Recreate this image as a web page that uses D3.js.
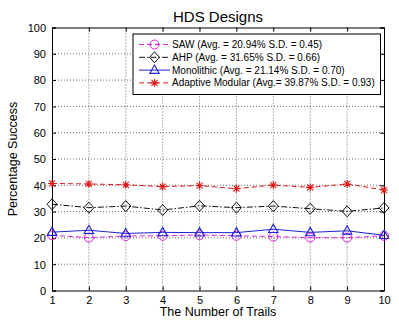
<!DOCTYPE html>
<html><head><meta charset="utf-8">
<script src="https://cdn.jsdelivr.net/npm/d3@7"></script>
<style>body{margin:0;background:#fff}svg{display:block}text{font-family:Arial,"Liberation Sans",sans-serif}</style>
</head><body><svg id="c" width="399" height="323"></svg>
<script>
const trials = [1,2,3,4,5,6,7,8,9,10];
const sawValues = [21.0,20.1,20.7,20.8,21.1,20.8,20.5,20.1,20.1,20.8];
const ahpValues = [32.8,31.5,32.1,30.6,32.2,31.5,32.1,31.1,30.1,31.4];
const monolithicValues = [22.2,22.9,21.7,22.1,22.0,22.0,23.3,22.1,22.7,21.0];
const adaptiveValues = [40.7,40.5,40.2,39.5,39.9,38.7,40.1,39.2,40.5,38.2];
const seriesNames = ["SAW (Avg. = 20.94% S.D. = 0.45)","AHP (Avg. = 31.65% S.D. = 0.66)","Monolithic (Avg. = 21.14% S.D. = 0.70)","Adaptive Modular (Avg.= 39.87% S.D. = 0.93)"];
const yTicks = [0,10,20,30,40,50,60,70,80,90,100];
const xTicks = [1,2,3,4,5,6,7,8,9,10];

const series = [
  {name:seriesNames[0], values:sawValues, color:"#e020e0", dash:"5,3", marker:"circle"},
  {name:seriesNames[1], values:ahpValues, color:"#111", dash:"6,2,1.5,2", marker:"diamond"},
  {name:seriesNames[2], values:monolithicValues, color:"#2020d0", dash:null, marker:"triangle"},
  {name:seriesNames[3], values:adaptiveValues, color:"#e01818", dash:"5,3", marker:"star"}
];

const svg = d3.select("#c");
const L=52, R=384, T=27.5, B=290.5;
const x = d3.scaleLinear().domain([1,10]).range([L,R]);
const y = d3.scaleLinear().domain([0,100]).range([B,T]);

// grid
const g = svg.append("g");
g.selectAll(".gx").data(xTicks.slice(1,-1)).enter().append("line")
 .attr("x1",d=>x(d)).attr("x2",d=>x(d)).attr("y1",T).attr("y2",B)
 .attr("stroke","#444").attr("stroke-width",0.8).attr("stroke-dasharray","1,2");
g.selectAll(".gy").data(yTicks.slice(1,-1)).enter().append("line")
 .attr("x1",L).attr("x2",R).attr("y1",d=>y(d)).attr("y2",d=>y(d))
 .attr("stroke","#444").attr("stroke-width",0.8).attr("stroke-dasharray","1,2");

// axes
const xAx = svg.append("g").attr("transform",`translate(0,${B})`)
 .call(d3.axisBottom(x).tickValues(xTicks).tickSize(-4).tickPadding(6).tickFormat(d3.format("d")));
const xAxTop = svg.append("g").attr("transform",`translate(0,${T})`)
 .call(d3.axisTop(x).tickValues(xTicks).tickSize(-4).tickFormat(""));
const yAx = svg.append("g").attr("transform",`translate(${L},0)`)
 .call(d3.axisLeft(y).tickValues(yTicks).tickSize(-4).tickPadding(6).tickFormat(d3.format("d")));
const yAxR = svg.append("g").attr("transform",`translate(${R},0)`)
 .call(d3.axisRight(y).tickValues(yTicks).tickSize(-4).tickFormat(""));
[xAx,xAxTop,yAx,yAxR].forEach(a=>{
  a.select(".domain").attr("stroke","#000").attr("stroke-width",1);
  a.selectAll(".tick line").attr("stroke","#000");
  a.selectAll("text").attr("font-size","11px").attr("fill","#000").attr("font-family","Arial, Liberation Sans, sans-serif");
});
yAx.selectAll("text").attr("dy","0.35em");

function drawMarker(sel, type, color){
  if(type==="circle") sel.append("circle").attr("r",4.5).attr("fill","none").attr("stroke",color).attr("stroke-width",1);
  else if(type==="diamond") sel.append("path").attr("d","M0,-5.5L5,0L0,5.5L-5,0Z").attr("fill","none").attr("stroke",color).attr("stroke-width",1);
  else if(type==="triangle") sel.append("path").attr("d","M0,-5L4.7,3.3L-4.7,3.3Z").attr("fill","none").attr("stroke",color).attr("stroke-width",1.1);
  else if(type==="star") sel.append("path").attr("d","M-4,0H4M0,-4V4M-3,-3L3,3M-3,3L3,-3").attr("fill","none").attr("stroke",color).attr("stroke-width",1.1);
}

const line = d3.line().x((d,i)=>x(trials[i])).y(d=>y(d));
series.forEach(s=>{
  svg.append("path").datum(s.values).attr("d",line).attr("fill","none")
    .attr("stroke",s.color).attr("stroke-width",1).attr("stroke-dasharray",s.dash);
  s.values.forEach((v,i)=>{
    const m = svg.append("g").attr("transform",`translate(${x(trials[i])},${y(v)})`);
    drawMarker(m,s.marker,s.color);
  });
});

// title & labels
svg.append("text").attr("x",218).attr("y",22).attr("text-anchor","middle").attr("font-size","15px").text("HDS Designs");
svg.append("text").attr("x",218).attr("y",316).attr("text-anchor","middle").attr("font-size","12.5px").text("The Number of Trails");
svg.append("text").attr("transform","translate(17,159) rotate(-90)").attr("text-anchor","middle").attr("font-size","12.5px").text("Percentage Success");

// legend
const lg = svg.append("g");
lg.append("rect").attr("x",133).attr("y",34).attr("width",247.5).attr("height",60.5).attr("fill","#fff").attr("stroke","#000").attr("stroke-width",1);
series.forEach((s,i)=>{
  const yy = 44.5 + i*12.8;
  lg.append("line").attr("x1",139).attr("x2",170).attr("y1",yy).attr("y2",yy)
    .attr("stroke",s.color).attr("stroke-width",1).attr("stroke-dasharray",s.dash);
  const m = lg.append("g").attr("transform",`translate(154.5,${yy})`);
  drawMarker(m,s.marker,s.color);
  lg.append("text").attr("x",172).attr("y",yy).attr("dy","0.35em").attr("font-size","10px").text(s.name);
});
</script></body></html>
